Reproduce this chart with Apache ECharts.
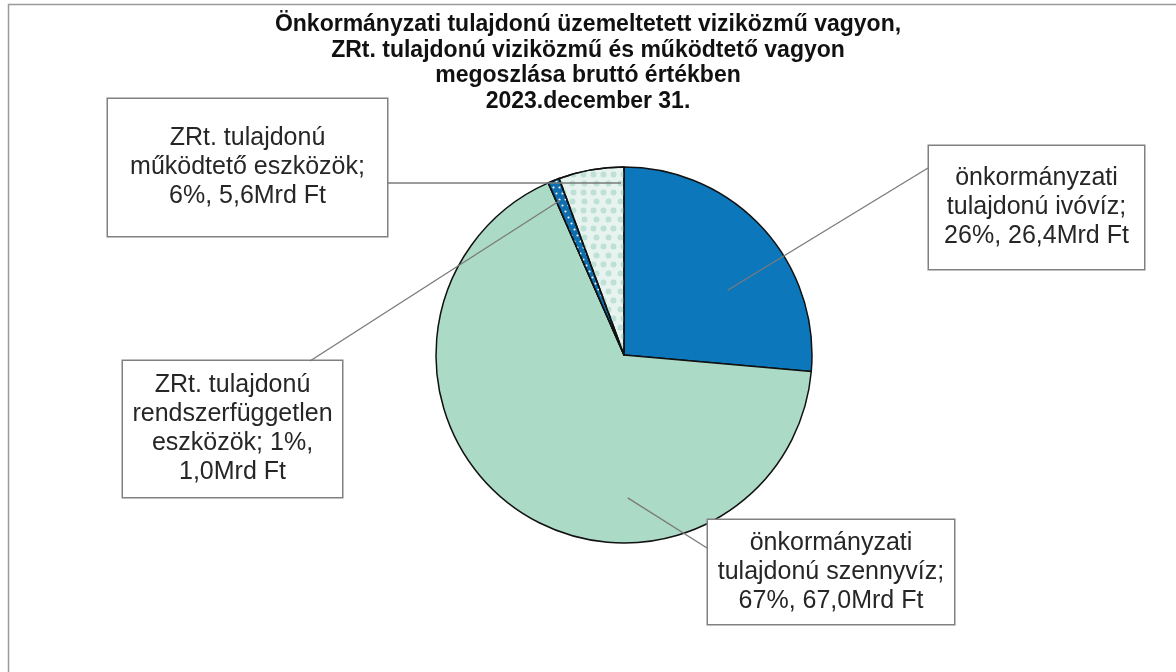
<!DOCTYPE html>
<html>
<head>
<meta charset="utf-8">
<script src="https://cdn.jsdelivr.net/npm/echarts@6/dist/echarts.min.js"></script>
<style>html,body{margin:0;padding:0;background:#fff}#c{width:1176px;height:672px}</style>
</head>
<body>
<div id="c"></div>
<script>
// ---- data ----
const titleLines = [
  'Önkormányzati tulajdonú üzemeltetett viziközmű vagyon,',
  'ZRt. tulajdonú viziközmű és működtető vagyon',
  'megoszlása bruttó értékben',
  '2023.december 31.'
];
const categories = [
  'önkormányzati\ntulajdonú ivóvíz',
  'önkormányzati\ntulajdonú szennyvíz',
  'ZRt. tulajdonú\nrendszerfüggetlen\neszközök',
  'ZRt. tulajdonú\nműködtető eszközök'
];
const values = [26.4, 67.0, 1.0, 5.6];           // Mrd Ft
const breakBeforePct = ['\n', '\n', ' ', '\n'];
const breakBeforeVal = [' ', ' ', '\n', ' '];

// ---- styles / layout ----
const fills = ['#0c77bb', '#abdac6', '#0f6fae', '#e6f3ee'];
const decals = [
  null,
  null,
  { symbol: 'circle', color: '#ffffff', symbolSize: 0.7, dashArrayX: [[3, 3], [0, 3, 3, 0]], dashArrayY: [3, 3] },
  { symbol: 'circle', color: '#bfe0d6', symbolSize: 0.85, dashArrayX: [[7, 3], [0, 5, 7, 0]], dashArrayY: [7, 2] }
];
// label boxes: [left, top, width, height]
const boxes = [
  [928, 146, 217, 123],
  [707, 520, 248, 104],
  [122, 361, 221, 136],
  [107, 99, 281, 137]
];
// leader line: point on the box [x, y], and anchor inside the slice
// as [fraction of the slice's angle, fraction of the radius]
const leaderBoxPts = [[928, 168], [707, 548], [310, 361], [388, 183]];
const leaderAnchors = [[0.61, 0.65], [0.346, 0.76], [0.39, 0.89], [0.95, 0.915]];
const LH = 29;
const FS = 25;

const data = values.map((v, i) => {
  const b = boxes[i];
  const nLines = (categories[i] + breakBeforePct[i] + 'x' + breakBeforeVal[i] + 'x').split('\n').length;
  const padV = (b[3] - nLines * LH) / 2;
  const item = {
    name: categories[i],
    value: v,
    itemStyle: { color: fills[i] },
    label: {
      width: b[2] - 2,
      padding: [padV, 0, padV, 0]
    }
  };
  if (decals[i]) item.itemStyle.decal = decals[i];
  return item;
});

const frame = {
  id: 'frame',
  type: 'rect',
  shape: { x: 8.5, y: 4.5, width: 1200, height: 700 },
  style: { fill: null, stroke: '#9a9a9a', lineWidth: 1.5 },
  silent: true
};

const chart = echarts.init(document.getElementById('c'), null, { renderer: 'canvas' });
chart.setOption({
  animation: false,
  backgroundColor: '#ffffff',
  title: {
    text: titleLines.join('\n'),
    left: 583,
    top: 7,
    textAlign: 'center',
    textStyle: {
      fontFamily: 'Liberation Sans',
      fontWeight: 'bold',
      fontSize: 23,
      lineHeight: 25.5,
      color: '#111111'
    }
  },
  graphic: [frame],
  series: [{
    type: 'pie',
    center: [624, 355],
    radius: 188,
    startAngle: 90,
    clockwise: true,
    avoidLabelOverlap: false,
    itemStyle: { borderColor: '#111', borderWidth: 1.5 },
    label: {
      show: true,
      position: 'outside',
      fontFamily: 'Liberation Sans',
      fontSize: FS,
      lineHeight: LH,
      color: '#262626',
      align: 'center',
      backgroundColor: '#ffffff',
      borderColor: '#808080',
      borderWidth: 1.5,
      formatter: p => {
        const i = p.dataIndex;
        return p.name + ';' + breakBeforePct[i] + Math.round(p.percent) + '%,' +
          breakBeforeVal[i] + p.value.toFixed(1).replace('.', ',') + 'Mrd Ft';
      }
    },
    labelLine: { show: false },
    labelLayout: p => {
      const b = boxes[p.dataIndex];
      return { x: b[0] + b[2] / 2, y: b[1], align: 'center', verticalAlign: 'top' };
    },
    emphasis: { disabled: true },
    data: data
  }]
});

// leader lines from the library's own slice layout
const pieData = chart.getModel().getSeriesByIndex(0).getData();
const lines = [];
for (let i = 0; i < values.length; i++) {
  const L = pieData.getItemLayout(i);
  const a = L.startAngle + leaderAnchors[i][0] * (L.endAngle - L.startAngle);
  const r = L.r * leaderAnchors[i][1];
  lines.push({
    type: 'line',
    z: 10,
    shape: {
      x1: L.cx + r * Math.cos(a), y1: L.cy + r * Math.sin(a),
      x2: leaderBoxPts[i][0], y2: leaderBoxPts[i][1]
    },
    style: { stroke: '#7a7a7a', lineWidth: 1.3 },
    silent: true
  });
}
chart.setOption({ graphic: [frame].concat(lines) }, { replaceMerge: ['graphic'] });
</script>
</body>
</html>
